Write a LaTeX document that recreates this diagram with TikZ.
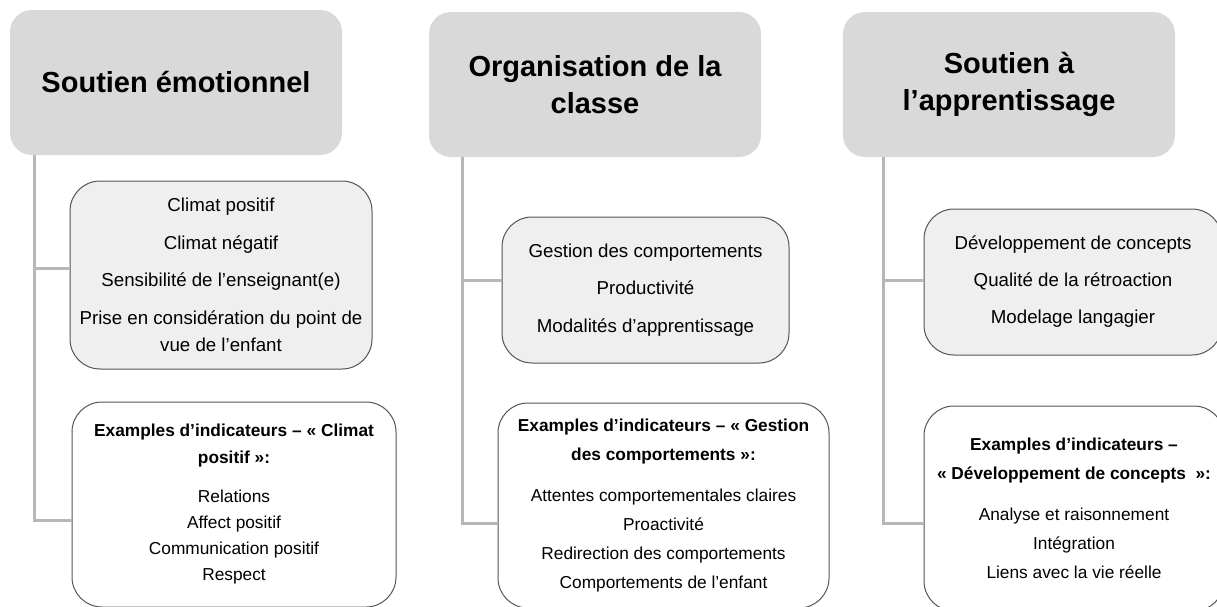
\documentclass[tikz,border=0pt]{standalone}
\usepackage{fontspec}
\setmainfont{Liberation Sans}
\definecolor{headfill}{HTML}{D9D9D9}
\definecolor{boxfill}{HTML}{EFEFEF}
\definecolor{boxline}{HTML}{555555}
\definecolor{connline}{HTML}{B7B7B7}
\tikzset{
  header/.style={rectangle, rounded corners=22pt, fill=headfill, inner sep=0pt,
    minimum width=332pt, minimum height=145pt, align=center,
    font=\fontsize{29}{37}\selectfont\bfseries},
  listbox/.style={rectangle, rounded corners=30pt, draw=boxline, line width=1pt, fill=boxfill,
    inner sep=0pt, align=center, font=\fontsize{18.7}{27}\selectfont},
  exbox/.style={rectangle, rounded corners=30pt, draw=boxline, line width=1pt, fill=white,
    inner sep=0pt, align=center, font=\fontsize{17.3}{29}\selectfont},
  conn/.style={draw=connline, line width=3pt},
}
\begin{document}
\begin{tikzpicture}[x=1pt,y=-1pt]
\useasboundingbox (0,0) rectangle (1217,606);
\clip (0,0) rectangle (1217,606);
\fill[white] (0,0) rectangle (1217,606);

% Column 1
\node[header] (h1) at (176,82.5) {Soutien émotionnel};
\node[listbox, minimum width=302pt, minimum height=188pt] (b11) at (221,275)
  {Climat positif\\[10.5pt] Climat négatif\\[10.5pt] Sensibilité de l’enseignant(e)\\[10.5pt]
   Prise en considération du point de\\ vue de l’enfant};
\node[exbox, minimum width=324pt, minimum height=205pt, font=\fontsize{17.3}{26.3}\selectfont] (b12) at (234,504.5)
  {\textbf{Examples d’indicateurs – « Climat}\\ \textbf{positif »:}\\[12.5pt]
   Relations\\ Affect positif\\ Communication positif\\ Respect};

% Column 2
\node[header] (h2) at (595,84.5) {Organisation de la\\ classe};
\node[listbox, minimum width=287pt, minimum height=146pt] (b21) at (645.5,290)
  {Gestion des comportements\\[10.5pt] Productivité\\[10.5pt] Modalités d’apprentissage};
\node[exbox, minimum width=331pt, minimum height=205pt] (b22) at (663.5,505.5)
  {\textbf{Examples d’indicateurs – « Gestion}\\ \textbf{des comportements »:}\\[12pt]
   Attentes comportementales claires\\ Proactivité\\ Redirection des comportements\\ Comportements de l’enfant};

% Column 3
\node[header] (h3) at (1009,84.5) {Soutien à\\ l’apprentissage};
\node[listbox, minimum width=298pt, minimum height=146pt] (b31) at (1073,282)
  {Développement de concepts\\[10pt] Qualité de la rétroaction\\[10pt] Modelage langagier};
\node[exbox, minimum width=300pt, minimum height=205pt] (b32) at (1074,508.5)
  {\textbf{Examples d’indicateurs –}\\ \textbf{« Développement de concepts~~»:}\\[12pt]
   Analyse et raisonnement\\ Intégration\\ Liens avec la vie réelle};

% Connector anchor points
\coordinate (v1) at ([xshift=25pt]h1.south west);
\coordinate (c11) at ([yshift=7pt]b11.west);
\coordinate (c12) at ([yshift=-15.5pt]b12.west);
\coordinate (v2) at ([xshift=34pt]h2.south west);
\coordinate (c21) at ([yshift=10pt]b21.west);
\coordinate (c22) at ([yshift=-17.5pt]b22.west);
\coordinate (v3) at ([xshift=41pt]h3.south west);
\coordinate (c31) at ([yshift=2pt]b31.west);
\coordinate (c32) at ([yshift=-14.5pt]b32.west);

% Connectors
\draw[conn] (v1) |- (c12);
\draw[conn] (v1 |- c11) -- (c11);
\draw[conn] (v2) |- (c22);
\draw[conn] (v2 |- c21) -- (c21);
\draw[conn] (v3) |- (c32);
\draw[conn] (v3 |- c31) -- (c31);
\end{tikzpicture}
\end{document}
